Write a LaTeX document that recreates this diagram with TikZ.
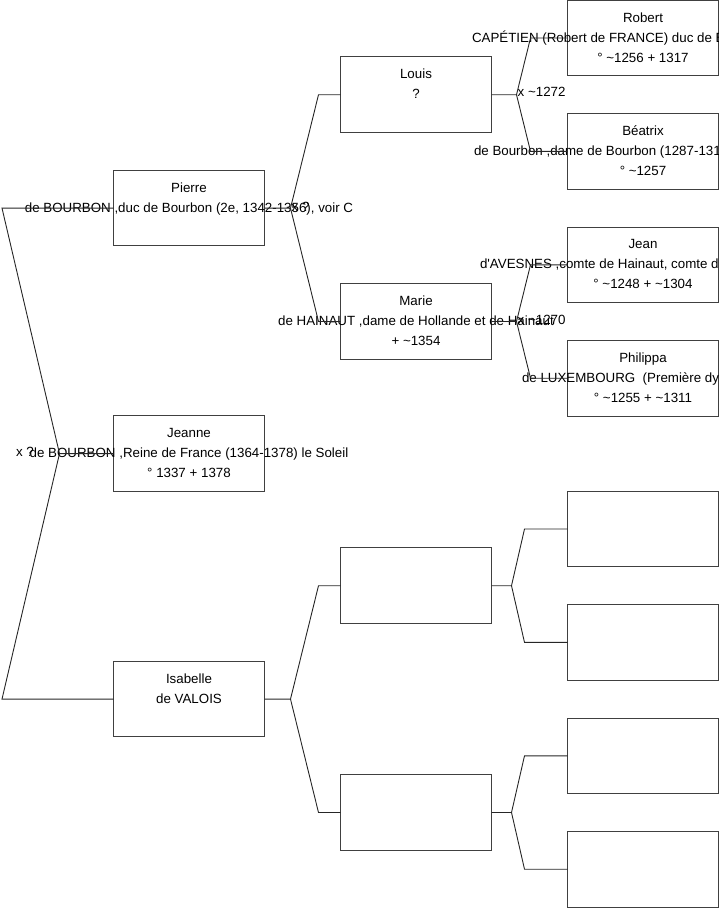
\documentclass[tikz,border=0pt]{standalone}
\usepackage{fontspec}
\setmainfont{Liberation Sans}[Ligatures=TeXOff]
\usetikzlibrary{positioning}
\newcommand{\personlines}[3]{\strut#1\\\strut#2\\\strut#3}
\newcommand{\wideline}[1]{\makebox[0pt]{#1}}
\newcommand{\cutline}[2]{\makebox[0pt]{\makebox[#1][l]{#2}}}

\begin{document}
\begin{tikzpicture}[
        x=1pt, y=-1pt,
        node distance=37.8pt and 76pt,
        person/.style={draw=black!75, line width=0.9pt, rectangle, minimum width=151pt, minimum height=75.6pt, inner sep=0pt, outer sep=0pt, align=center, font=\fontsize{13.33}{20}\selectfont},
        link/.style={draw=black!85, line width=0.9pt},
        wed/.style={font=\fontsize{13.33}{20}\selectfont, inner sep=1pt}
    ]
    \useasboundingbox (0,0) rectangle (719,908);

    \node[person] (jeanne) at (189,453.6) {\personlines{Jeanne}{\wideline{de BOURBON ,Reine de France (1364-1378) le Soleil}}{° 1337 + 1378}};

    % Parents
    \node[person] (pierre) [above=169.9pt of jeanne] {\personlines{Pierre}{\wideline{de BOURBON ,duc de Bourbon (2e, 1342-1356), voir C}}{}};
    \node[person] (isabelle) [below=169.9pt of jeanne] {\personlines{Isabelle}{de VALOIS}{}};

    % Grandparents
    \node[person] (louis) [above right=of pierre] {\personlines{Louis}{?}{}};
    \node[person] (marie) [below right=of pierre] {\personlines{Marie}{\wideline{de HAINAUT ,dame de Hollande et de Hainaut}}{+ \textasciitilde1354}};
    \node[person] (isapere) [above right=of isabelle] {};
    \node[person] (isamere) [below right=of isabelle] {};

    % Great-grandparents
    \node[person] (robert) [above right=18.9pt and 76pt of louis.east] {\personlines{Robert}{\cutline{342pt}{CAPÉTIEN (Robert de FRANCE) duc de B}}{° \textasciitilde1256 + 1317}};
    \node[person] (beatrix) [below right=18.9pt and 76pt of louis.east] {\personlines{Béatrix}{\cutline{338pt}{de Bourbon ,dame de Bourbon (1287-131}}{° \textasciitilde1257}};
    \node[person] (jean) [above right=18.9pt and 76pt of marie.east] {\personlines{Jean}{\cutline{326pt}{d\textquotesingle AVESNES ,comte de Hainaut, comte d}}{° \textasciitilde1248 + \textasciitilde1304}};
    \node[person] (philippa) [below right=18.9pt and 76pt of marie.east] {\personlines{Philippa}{\cutline{242pt}{de LUXEMBOURG\ \ (Première dy}}{° \textasciitilde1255 + \textasciitilde1311}};
    \node[person] (isapp) [above right=18.9pt and 76pt of isapere.east] {};
    \node[person] (isapm) [below right=18.9pt and 76pt of isapere.east] {};
    \node[person] (isamp) [above right=18.9pt and 76pt of isamere.east] {};
    \node[person] (isamm) [below right=18.9pt and 76pt of isamere.east] {};

    % Fork points
    \coordinate (lft) at (2,0);
    \coordinate (jj) at ([xshift=-54pt]jeanne.west);
    \coordinate (pj) at ([xshift=26pt]pierre.east);
    \coordinate (ij) at ([xshift=26pt]isabelle.east);
    \coordinate (lj) at ([xshift=25pt]louis.east);
    \coordinate (mj) at ([xshift=25pt]marie.east);
    \coordinate (paj) at ([xshift=20pt]isapere.east);
    \coordinate (maj) at ([xshift=20pt]isamere.east);

    % Family links
    \draw[link] (jeanne.west) -- (jj) -- (pierre.west -| lft) -- (pierre.west);
    \draw[link] (jj) -- (isabelle.west -| lft) -- (isabelle.west);
    \draw[link] (pierre.east) -- (pj) -- ([xshift=-22pt]louis.west) -- (louis.west);
    \draw[link] (pj) -- ([xshift=-22pt]marie.west) -- (marie.west);
    \draw[link] (isabelle.east) -- (ij) -- ([xshift=-22pt]isapere.west) -- (isapere.west);
    \draw[link] (ij) -- ([xshift=-22pt]isamere.west) -- (isamere.west);
    \draw[link] (louis.east) -- (lj) -- ([xshift=-37pt]robert.west) -- (robert.west);
    \draw[link] (lj) -- ([xshift=-37pt]beatrix.west) -- (beatrix.west);
    \draw[link] (marie.east) -- (mj) -- ([xshift=-37pt]jean.west) -- (jean.west);
    \draw[link] (mj) -- ([xshift=-37pt]philippa.west) -- (philippa.west);
    \draw[link] (isapere.east) -- (paj) -- ([xshift=-43pt]isapp.west) -- (isapp.west);
    \draw[link] (paj) -- ([xshift=-43pt]isapm.west) -- (isapm.west);
    \draw[link] (isamere.east) -- (maj) -- ([xshift=-43pt]isamp.west) -- (isamp.west);
    \draw[link] (maj) -- ([xshift=-43pt]isamm.west) -- (isamm.west);

    % Marriages
    \node[wed] (wedpi) at ([xshift=-34.5pt, yshift=1.5pt]jj) {x ?};
    \node[wed, anchor=west] (wedlm) at ([yshift=1pt]pj) {x ?};
    \node[wed, anchor=west] (wedrb) at ([yshift=3pt]lj) {x \textasciitilde1272};
    \node[wed, anchor=west] (wedjp) at ([yshift=1.5pt]mj) {x \textasciitilde1270};

\end{tikzpicture}
\end{document}
